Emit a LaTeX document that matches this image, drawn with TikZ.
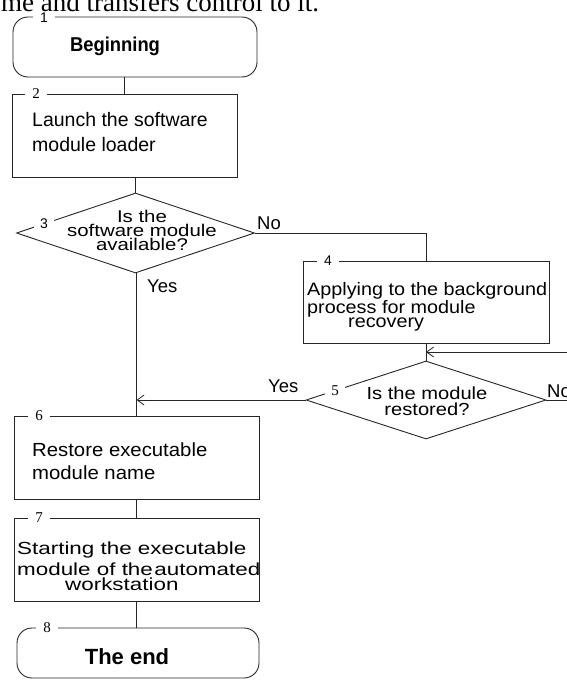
\documentclass[tikz,border=0pt]{standalone}
\usepackage{fontspec}
\setmainfont{Liberation Sans}
\newfontfamily\seriff{Liberation Serif}
\newfontfamily\fA[FakeStretch=1.2]{Liberation Sans}
\newfontfamily\fB[FakeStretch=1.15]{Liberation Sans}
\newfontfamily\fC[FakeStretch=1.1]{Liberation Sans}
\newfontfamily\fD[FakeStretch=1.28]{Liberation Sans}
\newfontfamily\fE[FakeStretch=1.07]{Liberation Sans}
\newfontfamily\fF[FakeStretch=0.92]{Liberation Sans}
\usetikzlibrary{shapes.geometric,arrows.meta}
\begin{document}
\begin{tikzpicture}[x=1pt,y=-1pt,
  line/.style={draw=black!85, line width=0.9pt},
  box/.style={line, rectangle, inner sep=0pt},
  rbox/.style={box, rounded corners=15pt},
  dia/.style={line, diamond, inner sep=0pt},
  num/.style={fill=white, inner xsep=7pt, inner ysep=0pt},
  numsans/.style={num, font=\fontsize{14}{14}\selectfont},
  numserif/.style={num, font=\seriff\fontsize{15}{15}\selectfont},
  txt/.style={inner sep=0pt},
  lbl/.style={txt, anchor=north west, font=\fontsize{18.5}{20}\selectfont},
  arr/.style={line, -{Straight Barb[length=7pt,width=10pt,line width=0.8pt]}}
]
\useasboundingbox (0,0) rectangle (567,680);

% boxes
\node[rbox, minimum width=244pt, minimum height=60pt] (b1) at (135,47) {};
\node[box, minimum width=225pt, minimum height=83pt] (b2) at (124.5,135.5) {};
\node[dia, minimum width=238pt, minimum height=80pt] (d3) at (135.5,233) {};
\node[box, minimum width=246pt, minimum height=82pt] (b4) at (426,302) {};
\node[dia, minimum width=240pt, minimum height=78pt] (d5) at (426,400) {};
\node[box, minimum width=245pt, minimum height=83pt] (b6) at (136.5,457.5) {};
\node[box, minimum width=245pt, minimum height=83pt] (b7) at (136.5,559.5) {};
\node[rbox, minimum width=242pt, minimum height=50pt] (b8) at (138,653) {};

% texts
\node[txt, anchor=north, font=\fF\bfseries\fontsize{20}{22}\selectfont] (t1) at (115,37) {Beginning};
\node[txt, anchor=north west, align=left, font=\fontsize{19.5}{25}\selectfont] (t2) at (32,112) {Launch the software\\module loader};
\node[txt, anchor=north, align=center, font=\fA\fontsize{17}{14}\selectfont] (t3) at (142,210) {Is the\\software module\\available?};
\node[txt, anchor=north west, align=left, font=\fC\fontsize{18}{18}\selectfont] (t4) at (307,282) {Applying to the background\\process for module\\[-4pt]\hspace*{41pt}recovery};
\node[txt, anchor=north, align=center, font=\fB\fontsize{17.5}{16}\selectfont] (t5) at (427,387) {Is the module\\restored?};
\node[txt, anchor=north west, align=left, font=\fE\fontsize{19}{23}\selectfont] (t6) at (32,443) {Restore executable\\module name};
\node[txt, anchor=north west, align=left, font=\fD\fontsize{17.5}{21}\selectfont] (t7) at (17,542) {Starting the executable\\module of the\hspace{1.5pt}automated\\[-6pt]\hspace*{48pt}workstation};
\node[txt, anchor=north, font=\bfseries\fontsize{22}{24}\selectfont] (t8) at (127,648) {The end};

% branch labels
\node[lbl] (no3) at (257,217) {No};
\node[lbl] (yes3) at (147,280) {Yes};
\node[lbl] (yes5) at (268,380) {Yes};
\node[lbl] (no5) at (547,385) {No};

% connectors
\coordinate (lpA) at (590,400);
\coordinate (lpB) at (590,352);
\coordinate (j5) at (426,352);
\draw[line] (b2.north |- b1.south) -- (b2.north);
\draw[line] (d3.north |- b2.south) -- (d3.north);
\draw[line] (d3.east) -- (d3.east -| b4.north) -- (b4.north);
\draw[line] (b6.north |- d3.south) -- (b6.north);
\draw[line] (b4.south) -- (d5.north);
\draw[arr] (d5.east) -- (lpA) -- (lpB) -- (j5);
\draw[arr] (d5.west) -- (d5.west -| b6.north);
\draw[line] (b6.south) -- (b7.north);
\draw[line] (b7.south) -- (b7.south |- b8.north);

% step numbers
\node[numsans] (n1) at (44,18) {1};
\node[numserif] (n2) at (36,94) {2};
\node[numsans, inner xsep=6pt] (n3) at (44,224) {3};
\node[numsans] (n4) at (328,261) {4};
\node[numserif, inner xsep=6pt] (n5) at (335,391) {5};
\node[numserif] (n6) at (39,416) {6};
\node[numserif] (n7) at (39,518) {7};
\node[numserif] (n8) at (47,628) {8};

% clipped running text of the page
\node[txt, anchor=base west, font=\seriff\fontsize{27}{30}\selectfont] (top) at (1,12) {me and transfers control to it.};
\end{tikzpicture}
\end{document}
